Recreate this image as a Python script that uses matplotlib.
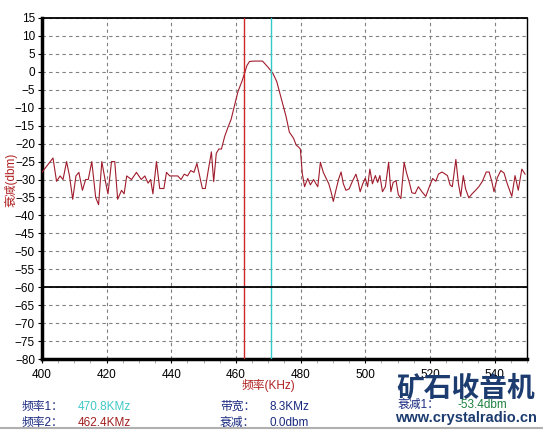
import matplotlib.pyplot as plt
from matplotlib.ticker import MultipleLocator

plt.rcParams['font.family'] = ['Liberation Sans', 'Noto Sans CJK SC', 'DejaVu Sans']

# spectrum sweep
freq = [400.0, 403.4, 404.5, 405.6, 406.5, 407.6, 408.5, 409.5, 410.5, 411.4,
        412.5, 413.5, 414.3, 415.4, 416.6, 417.5, 418.5, 419.5, 420.4, 421.5,
        422.5, 423.4, 424.6, 425.4, 426.2, 427.7, 429.2, 430.7, 431.8, 432.8,
        433.6, 434.3, 435.4, 436.4, 437.7, 438.5, 439.5, 441.0, 442.0, 443.0,
        444.0, 445.0, 446.0, 447.0, 447.9, 448.8, 449.6, 450.5, 451.5, 452.4,
        453.1, 453.9, 454.7, 455.5, 456.5, 457.5, 458.5, 459.6, 460.6, 461.9,
        462.7, 463.4, 464.2, 465.7, 468.2, 469.8, 471.4, 472.6, 474.0, 475.5,
        476.5, 477.8, 478.6, 479.4, 479.9, 480.5, 481.2, 482.2, 483.0, 484.0,
        484.8, 485.3, 486.1, 487.0, 487.9, 488.7, 489.4, 490.1, 491.0, 491.8,
        492.5, 493.2, 494.0, 495.0, 496.1, 497.1, 497.8, 498.4, 499.2, 500.0,
        500.7, 501.4, 502.2, 503.1, 503.8, 504.5, 505.3, 506.2, 507.2, 507.9,
        508.6, 509.5, 510.2, 511.0, 512.0, 512.7, 513.6, 514.4, 515.4, 516.4,
        517.5, 518.7, 519.8, 520.8, 521.8, 522.6, 523.7, 524.7, 525.4, 526.2,
        526.9, 528.0, 528.8, 529.5, 530.3, 531.0, 532.0, 533.1, 534.1, 535.1,
        536.2, 537.4, 538.3, 539.1, 539.8, 540.8, 541.9, 542.9, 543.9, 545.3,
        546.3, 547.3, 548.4, 549.4]
level = [-28.0, -24.0, -30.5, -29.0, -30.0, -25.0, -29.0, -35.5, -29.0, -28.0,
         -33.0, -30.0, -30.0, -25.0, -35.0, -37.0, -25.0, -30.0, -34.0, -25.0,
         -25.0, -35.5, -33.0, -34.0, -29.0, -30.0, -28.0, -30.0, -29.0, -31.0,
         -30.0, -34.0, -25.0, -32.5, -32.5, -28.0, -29.0, -29.0, -29.0, -30.0,
         -28.5, -29.0, -27.5, -28.0, -25.5, -29.2, -32.5, -32.5, -27.0, -22.3,
         -30.6, -22.7, -21.5, -21.5, -18.0, -15.5, -13.2, -9.2, -5.5, -2.5,
         -0.2, 1.8, 2.9, 3.0, 3.0, 1.4, -0.4, -2.7, -7.4, -12.5,
         -16.8, -18.5, -20.4, -21.0, -21.5, -28.3, -32.0, -29.7, -31.5, -30.0,
         -31.3, -32.0, -25.2, -28.0, -29.7, -31.2, -33.4, -36.1, -32.6, -29.7,
         -27.9, -31.2, -33.0, -32.6, -30.3, -28.5, -30.8, -33.4, -31.2, -29.6,
         -32.0, -27.1, -31.2, -28.9, -30.8, -28.9, -33.4, -32.0, -25.2, -33.4,
         -30.8, -30.3, -34.2, -35.3, -25.2, -28.0, -30.8, -33.7, -33.9, -32.0,
         -33.4, -34.7, -32.0, -29.7, -30.5, -28.5, -27.9, -28.5, -28.9, -31.5,
         -32.0, -24.4, -31.2, -34.7, -28.9, -32.6, -35.1, -33.9, -33.0, -32.0,
         -30.5, -27.9, -27.9, -30.5, -33.4, -29.5, -27.5, -28.2, -31.2, -34.7,
         -28.9, -33.0, -27.1, -28.5]

marker1 = 470.8
marker2 = 462.4
ref_level = -60
bandwidth = '8.3KMz'
atten = '0.0dbm'
atten1 = '-53.4dbm'

fig = plt.figure(figsize=(5.43, 4.33), dpi=100)
ax = fig.add_axes([42 / 543, 1 - 359 / 433, 485 / 543, 341 / 433])

ax.plot(freq, level, color='#a01c2c', lw=0.8, zorder=3)
ax.axvline(marker2, color='#d02828', lw=1.0, zorder=4)
ax.axvline(marker1, color='#30c8c8', lw=1.0, zorder=4)
ax.axhline(ref_level, color='black', lw=1.3, zorder=4)

ax.set_xlim(400, 550)
ax.set_ylim(-80, 15)
ax.xaxis.set_major_locator(MultipleLocator(20))
ax.xaxis.set_minor_locator(MultipleLocator(5))
ax.yaxis.set_major_locator(MultipleLocator(5))
ax.grid(True, which='major', color='#808080', lw=0.8, linestyle=(0, (3, 3)))
ax.tick_params(axis='both', which='major', labelsize=8.5, length=3, width=0.8,
               color='black', pad=2)
ax.tick_params(axis='x', which='major', pad=4)
ax.tick_params(axis='x', which='minor', length=3, width=0.6, color='#a0a0a0')
ax.spines['left'].set_linewidth(2.5)
ax.spines['bottom'].set_linewidth(2.5)
ax.spines['top'].set_linewidth(1.3)
ax.spines['right'].set_linewidth(1.0)

fig.text(11 / 543, 1 - 180 / 433, '衰减(dbm)', color='#b02020', fontsize=8.5,
         rotation=90, ha='center', va='center')
fig.text(268 / 543, 1 - 385 / 433, '频率(KHz)', color='#b02020', fontsize=8.5,
         ha='center', va='center')

navy = '#1a2a80'
fig.text(22 / 543, 1 - 407 / 433, '频率1：', color=navy, fontsize=8.5, va='center')
fig.text(22 / 543, 1 - 423 / 433, '频率2：', color=navy, fontsize=8.5, va='center')
fig.text(78 / 543, 1 - 407 / 433, '%.1fKMz' % marker1, color='#40c8c8', fontsize=8.5, va='center')
fig.text(78 / 543, 1 - 423 / 433, '%.1fKMz' % marker2, color='#a02020', fontsize=8.5, va='center')
fig.text(220 / 543, 1 - 407 / 433, '带宽：', color=navy, fontsize=8.5, va='center')
fig.text(220 / 543, 1 - 423 / 433, '衰减：', color=navy, fontsize=8.5, va='center')
fig.text(270 / 543, 1 - 407 / 433, bandwidth, color=navy, fontsize=8.5, va='center')
fig.text(270 / 543, 1 - 423 / 433, atten, color=navy, fontsize=8.5, va='center')
fig.text(398 / 543, 1 - 405 / 433, '衰减1：', color=navy, fontsize=8.5, va='center')
fig.text(457 / 543, 1 - 405 / 433, atten1, color='#208040', fontsize=8.5, va='center')

# site watermark
fig.text(466 / 543, 1 - 389 / 433, '矿石收音机', color='#1c3c70', fontsize=20,
         fontweight='bold', ha='center', va='center')
fig.text(466 / 543, 1 - 418 / 433, 'www.crystalradio.cn', color='#1c3c70',
         fontsize=10.5, fontweight='bold', ha='center', va='center')

fig.add_artist(plt.Line2D([0, 1], [1 - 428 / 433] * 2, color='#b0b0b0', lw=1.5))

plt.savefig('out.png', dpi=100)
